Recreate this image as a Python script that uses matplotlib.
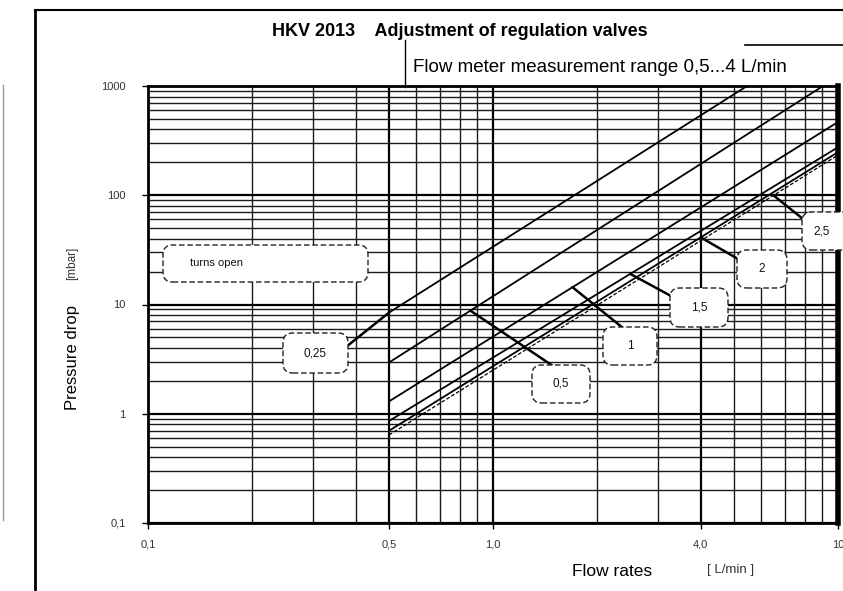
import numpy as np
import matplotlib
matplotlib.use("Agg")
import matplotlib.pyplot as plt
from matplotlib.patches import FancyBboxPatch
from matplotlib.lines import Line2D

plt.rcParams['font.family'] = ['Liberation Sans', 'DejaVu Sans']

# ---- data ----
turns_labels = ["0,25", "0,5", "1", "1,5", "2", "2,5"]
flow_start = [0.5, 0.5, 0.5, 0.5, 0.5, 0.5]
flow_end = [5.45, 9.05, 10.0, 10.0, 10.0, 10.0]
dp_start = [8.45, 2.95, 1.3, 0.86, 0.70, 0.64]
dp_end = [1000.0, 1000.0, 468.0, 275.0, 248.0, 233.0]
pointer_flow = [0.5, 0.86, 1.7, 2.5, 4.0, 6.5]

x_ticks = [0.1, 0.5, 1.0, 4.0, 10.0]
x_ticklabels = ["0,1", "0,5", "1,0", "4,0", "10"]
y_ticks = [0.1, 1, 10, 100, 1000]
y_ticklabels = ["0,1", "1", "10", "100", "1000"]

W, H = 843, 591
fig = plt.figure(figsize=(W / 100, H / 100), dpi=100)
L, R, T, B = 148, 838, 86, 523
ax = fig.add_axes([L / W, 1 - B / H, (R - L) / W, (B - T) / H])
ax.set_xscale('log')
ax.set_yscale('log')
ax.set_xlim(0.1, 10)
ax.set_ylim(0.1, 1000)

# grid
ax.grid(True, which='minor', color='#1a1a1a', lw=1.0)
ax.grid(True, which='major', color='black', lw=1.6)
ax.set_axisbelow(True)

# lines
for i in range(len(turns_labels)):
    ls = (0, (3, 1.5)) if i == 5 else '-'
    lw = 0.9 if i == 5 else 1.3
    ax.plot([flow_start[i], flow_end[i]], [dp_start[i], dp_end[i]], color='black', lw=lw, ls=ls,
            solid_capstyle='butt', zorder=3)

def px2ax(px, py):
    return ((px - L) / (R - L), (B - py) / (B - T))

def add_box(x0, y0, x1, y1):
    fx0, fy0 = px2ax(x0, y1)
    fx1, fy1 = px2ax(x1, y0)
    p = FancyBboxPatch((fx0, fy0), fx1 - fx0, fy1 - fy0,
                       boxstyle="round,pad=0,rounding_size=0.014",
                       transform=ax.transAxes, facecolor='white', edgecolor='#222',
                       lw=1.0, ls=(0, (4, 2)), zorder=5, clip_on=False,
                       mutation_aspect=(R - L) / (B - T))
    ax.add_patch(p)

# "turns open" box
add_box(163, 245, 368, 282)
ax.text(*px2ax(190, 263), "turns open", transform=ax.transAxes, fontsize=8,
        ha='left', va='center', zorder=6, color='#111')

# callout boxes: (x0, y0, x1, y1) in pixels, pointer start
boxes = [(283, 333, 348, 373), (532, 365, 590, 403), (603, 327, 657, 365),
         (670, 288, 728, 327), (737, 250, 787, 288), (802, 212, 852, 250)]
ptr_from = [(346, 347), (553, 366), (623, 328), (671, 296), (738, 259), (803, 219)]

for i, lab in enumerate(turns_labels):
    x0, y0, x1, y1 = boxes[i]
    q = pointer_flow[i]
    lq = np.log10([flow_start[i], flow_end[i]])
    ld = np.log10([dp_start[i], dp_end[i]])
    dp = 10 ** np.interp(np.log10(q), lq, ld)
    ax.annotate("", xy=(q, dp), xycoords='data', xytext=px2ax(*ptr_from[i]),
                textcoords='axes fraction',
                arrowprops=dict(arrowstyle='-', color='black', lw=1.8, shrinkA=0, shrinkB=0),
                zorder=4, annotation_clip=False)
    add_box(x0, y0, x1, y1)
    tx = (x0 + min(x1, 843)) / 2 if i < 5 else 822
    ax.text(*px2ax(tx, (y0 + y1) / 2), lab, transform=ax.transAxes, fontsize=8.5,
            ha='center', va='center', zorder=6, color='#111', clip_on=False)

# ticks
ax.set_xticks(x_ticks)
ax.set_xticklabels(x_ticklabels)
ax.set_yticks(y_ticks)
ax.set_yticklabels(y_ticklabels)
ax.xaxis.set_minor_formatter(matplotlib.ticker.NullFormatter())
ax.yaxis.set_minor_formatter(matplotlib.ticker.NullFormatter())
ax.tick_params(which='major', length=4, width=1, labelsize=8, labelcolor='#333')
ax.tick_params(axis='y', pad=12)
ax.tick_params(axis='x', pad=8)
ax.tick_params(which='minor', length=0)

for s in ['left', 'bottom', 'top']:
    ax.spines[s].set_linewidth(2)
ax.spines['right'].set_linewidth(4)

# labels
fig.text(73 / W, 1 - 358 / H, "Pressure drop", rotation=90, fontsize=12,
         ha='center', va='center')
fig.text(72 / W, 1 - 263 / H, "[mbar]", rotation=90, fontsize=8.5,
         ha='center', va='center', color='#333')
fig.text(612 / W, 1 - 572 / H, "Flow rates", fontsize=12.5, ha='center', va='center')
fig.text(731 / W, 1 - 570 / H, "[ L/min ]", fontsize=9.5, ha='center', va='center', color='#333')

fig.text(460 / W, 1 - 32 / H, "HKV 2013    Adjustment of regulation valves", fontsize=13,
         fontweight='bold', ha='center', va='center')
fig.text(413 / W, 1 - 67 / H, "Flow meter measurement range 0,5...4 L/min", fontsize=13.5,
         ha='left', va='center')

# frame lines
fig.add_artist(Line2D([35 / W, 35 / W], [0, 1 - 10 / H], color='black', lw=2))
fig.add_artist(Line2D([35 / W, 1], [1 - 10 / H, 1 - 10 / H], color='black', lw=1.5))
fig.add_artist(Line2D([405 / W, 405 / W], [1 - 87 / H, 1 - 40 / H], color='black', lw=1))
fig.add_artist(Line2D([745 / W, 1], [1 - 45 / H, 1 - 45 / H], color='black', lw=1.2))
fig.add_artist(Line2D([3 / W, 3 / W], [1 - 520 / H, 1 - 85 / H], color='#999', lw=1))

fig.savefig("out.png", dpi=100)
